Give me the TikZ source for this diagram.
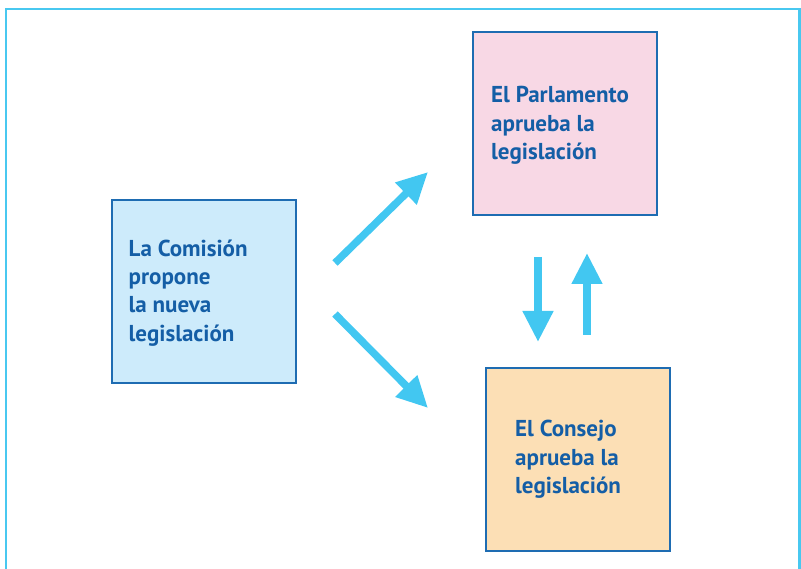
\documentclass[tikz,border=0pt]{standalone}
\usepackage{fontspec}
\setmainfont{PT Sans}
\usetikzlibrary{arrows.meta}
\definecolor{framec}{RGB}{72,200,240}
\definecolor{arrowc}{RGB}{66,199,241}
\definecolor{borderc}{RGB}{30,108,178}
\definecolor{textc}{RGB}{20,94,166}
\definecolor{fillcom}{RGB}{205,235,251}
\definecolor{fillpar}{RGB}{248,216,229}
\definecolor{fillcon}{RGB}{252,223,181}
\tikzset{
  stagebox/.style={draw=borderc, line width=2pt, rectangle, inner sep=0pt,
    minimum width=184pt, minimum height=183pt},
  stagetext/.style={anchor=west, align=left, inner sep=0pt, text=textc,
    font=\fontsize{23}{28.3}\selectfont\bfseries},
  bigarrow/.style={draw=arrowc, line width=7.5pt,
    -{Triangle[length=31pt, width=29pt]}},
}
\begin{document}
\begin{tikzpicture}[x=1pt, y=-1pt]
\useasboundingbox (0,0) rectangle (801,569);
% outer frame (open at the bottom)
\draw[framec, line width=2.6pt] (6,580) -- (6,9) -- (799.5,9) -- (799.5,580);
% boxes
\node[stagebox, fill=fillcom] (com) at (203.5,291.5) {};
\node[stagebox, fill=fillpar] (par) at (565,124) {};
\node[stagebox, fill=fillcon] (con) at (578,459.5) {};
% texts
\node[stagetext] (comt) at ([xshift=18pt,yshift=-1.5pt]com.west) {La Comisión\\propone\\la nueva\\legislación};
\node[stagetext] (part) at ([xshift=19pt,yshift=-1.5pt]par.west) {El Parlamento\\aprueba la\\legislación};
\node[stagetext] (cont) at ([xshift=30pt,yshift=0pt]con.west) {El Consejo\\aprueba la\\legislación};
% arrow end coordinates
\coordinate (a1s) at (335,263);
\coordinate (a1e) at (428,172);
\coordinate (a2s) at (335,314);
\coordinate (a2e) at (428,408);
\coordinate (a3s) at (538,257);
\coordinate (a3e) at (538,342);
\coordinate (a4s) at (587,335);
\coordinate (a4e) at (587,253);
\draw[bigarrow] (a1s) -- (a1e);
\draw[bigarrow] (a2s) -- (a2e);
\draw[bigarrow] (a3s) -- (a3e);
\draw[bigarrow] (a4s) -- (a4e);
\end{tikzpicture}
\end{document}
